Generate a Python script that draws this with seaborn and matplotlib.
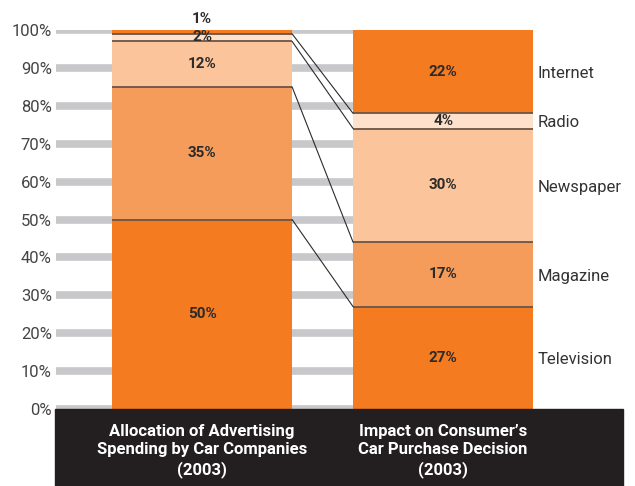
import numpy as np
import pandas as pd
import matplotlib
matplotlib.use("Agg")
import matplotlib.pyplot as plt
import seaborn as sns
from matplotlib.patches import Rectangle

# ---- data ----
media = ["Television", "Magazine", "Newspaper", "Radio", "Internet"]
spending = [50, 35, 12, 2, 1]        # Allocation of advertising spending (2003)
impact = [27, 17, 30, 4, 22]         # Impact on consumer's purchase decision (2003)
group_labels = ["Allocation of Advertising\nSpending by Car Companies\n(2003)",
                "Impact on Consumer\u2019s\nCar Purchase Decision\n(2003)"]
yticks = [0, 10, 20, 30, 40, 50, 60, 70, 80, 90, 100]
colors = ["#F47B20", "#F69C5A", "#FBC49A", "#FDE1CA", "#F47B20"]

sns.set_theme(style="white")
plt.rcParams["font.family"] = ["Roboto", "DejaVu Sans"]

W, H = 635, 486
fig = plt.figure(figsize=(W / 100, H / 100), dpi=100)

# axes pixel geometry
left_px, right_px = 56, 533
y0_px, y100_px = 409, 30
ax = fig.add_axes([left_px / W, (H - y0_px) / H, (right_px - left_px) / W, (y0_px - y100_px) / H])

bar_w = 180 / 241
groups = ["g0", "g1"]
cum0 = np.cumsum(spending)
cum1 = np.cumsum(impact)

# stacked bars drawn as overlapping cumulative bars (top layer first)
for i in range(len(media) - 1, -1, -1):
    df = pd.DataFrame({"g": groups, "v": [cum0[i], cum1[i]]})
    sns.barplot(data=df, x="g", y="v", ax=ax, color=colors[i], width=bar_w,
                saturation=1, linewidth=0, zorder=2)

# divider lines between segments
for c0, c1 in zip(cum0[:-1], cum1[:-1]):
    ax.hlines(c0, 0 - bar_w / 2, 0 + bar_w / 2, color="#6A5548", lw=1.3, zorder=3)
    ax.hlines(c1, 1 - bar_w / 2, 1 + bar_w / 2, color="#6A5548", lw=1.3, zorder=3)
    # connectors
    ax.plot([0 + bar_w / 2, 1 - bar_w / 2], [c0, c1], color="#2B2B2B", lw=0.8, zorder=3)

# value labels
txtc = "#2B2B2B"
for j, (vals, cum) in enumerate([(spending, cum0), (impact, cum1)]):
    for i, v in enumerate(vals):
        mid = cum[i] - v / 2
        if j == 0 and media[i] == "Internet":
            mid = 103
        elif j == 0 and media[i] == "Radio":
            mid = 98.2
        ax.text(j, mid, f"{v}%", ha="center", va="center", fontsize=11,
                fontweight="bold", color=txtc, zorder=4, clip_on=False)

# right-hand category labels
for i, m in enumerate(media):
    mid = cum1[i] - impact[i] / 2
    ax.text(1 + bar_w / 2 + 0.02, mid - 0.5, m, ha="left", va="center", fontsize=12,
            color="#333333", clip_on=False)

ax.set_xlim(-0.606, 1.373)
ax.set_ylim(0, 100)
ax.set_yticks(yticks)
ax.set_yticklabels([f"{t}%" for t in yticks], fontsize=12, color="#444444")
ax.tick_params(axis="y", length=0, pad=3)
ax.set_xticks([])
ax.set_xlabel("")
ax.set_ylabel("")
ax.set_axisbelow(True)
ax.yaxis.grid(True, color="#C8C8CA", lw=5.5)
ax.xaxis.grid(False)
for s in ax.spines.values():
    s.set_visible(False)
ax.patch.set_alpha(0)

# dark label box
box_top = 409
fig.patches.append(Rectangle((55 / W, 0), (623 - 55) / W, (H - box_top) / H,
                             transform=fig.transFigure, color="#231F20", zorder=0))
for j, lab in enumerate(group_labels):
    xc = [202, 443][j] / W
    fig.text(xc, (H - 451) / H, lab, ha="center", va="center", color="white",
             fontsize=12, fontweight="bold", linespacing=1.27)

fig.savefig("out.png", dpi=100)
